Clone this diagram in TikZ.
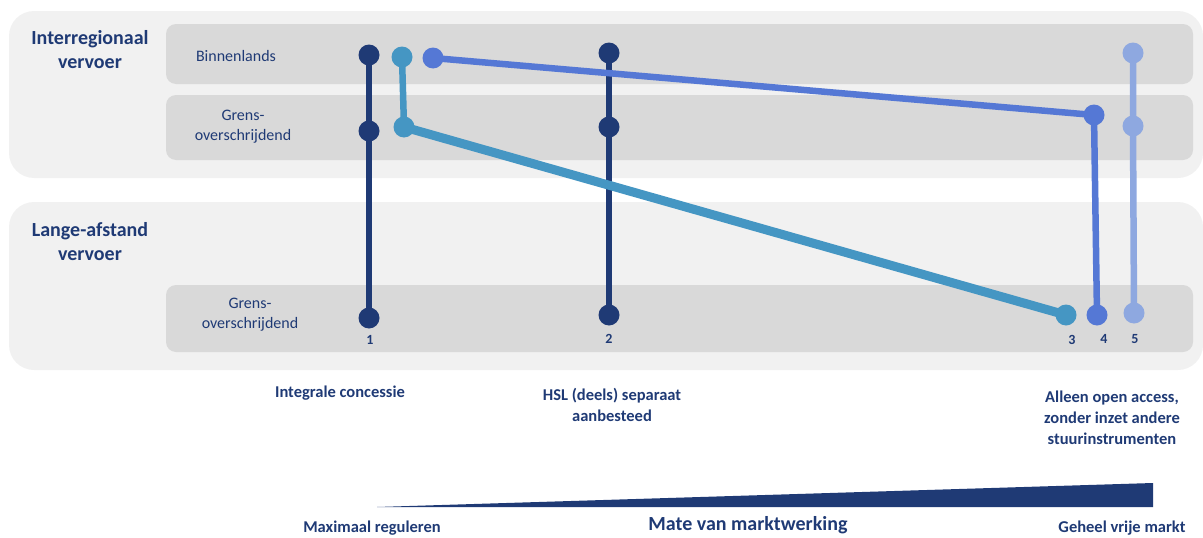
\documentclass[tikz,border=0pt]{standalone}
\usepackage{fontspec}
\setmainfont{Carlito}
\usetikzlibrary{positioning}
\definecolor{navy}{HTML}{1F3A75}
\definecolor{teal}{HTML}{4596C3}
\definecolor{midblue}{HTML}{5578D5}
\definecolor{lightblue}{HTML}{8EA8E0}
\definecolor{panelbg}{HTML}{F1F1F1}
\definecolor{rowbg}{HTML}{D9D9D9}
\begin{document}
\begin{tikzpicture}[x=1pt, y=-1pt, line cap=round, line join=round,
    dot/.style = {circle, fill=#1, inner sep=0pt, minimum size=21pt},
    track/.style = {draw=#1, line width=6.5pt},
    group/.style = {font=\bfseries\fontsize{20}{24}\selectfont, text=navy, align=center},
    rowlabel/.style = {font=\fontsize{16}{20}\selectfont, text=navy, align=center},
    num/.style = {font=\bfseries\fontsize{14}{16}\selectfont, text=navy},
    caption/.style = {font=\bfseries\fontsize{16.5}{21}\selectfont, text=navy, align=center}]
  \useasboundingbox (0,0) rectangle (1203,538);
  % panels
  \fill[panelbg, rounded corners=25pt] (9,11) rectangle (1203,178);
  \fill[panelbg, rounded corners=25pt] (9,202) rectangle (1203,370);
  \fill[rowbg, rounded corners=10pt] (166,24) rectangle (1193,84);
  \fill[rowbg, rounded corners=10pt] (166,95) rectangle (1193,160);
  \fill[rowbg, rounded corners=10pt] (166,285) rectangle (1193,352);
  % labels
  \node[group] (ir) at (90,50) {Interregionaal\\vervoer};
  \node[group] (la) at (90,242) {Lange-afstand\\vervoer};
  \node[rowlabel] (bin) at (236,56) {Binnenlands};
  \node[rowlabel] (gr1) at (243,127) {Grens-\\overschrijdend};
  \node[rowlabel] (gr2) at (250,315) {Grens-\\overschrijdend};
  % model 1
  \node[dot=navy] (a1) at (369,55) {};
  \node[dot=navy] (a2) at (369,131) {};
  \node[dot=navy] (a3) at (369,318) {};
  \draw[track=navy] (a1.center) -- (a2.center) -- (a3.center);
  % model 2
  \node[dot=navy] (b1) at (609,53) {};
  \node[dot=navy] (b2) at (609,127) {};
  \node[dot=navy] (b3) at (609,315) {};
  \draw[track=navy] (b1.center) -- (b2.center) -- (b3.center);
  % model 3
  \node[dot=teal] (c1) at (402,57) {};
  \node[dot=teal] (c2) at (404,127) {};
  \node[dot=teal] (c3) at (1066,315) {};
  \draw[track=teal] (c1.center) -- (c2.center);
  \draw[track=teal, line width=9pt] (c2.center) -- (c3.center);
  % model 4
  \node[dot=midblue] (d1) at (433,58) {};
  \node[dot=midblue] (d2) at (1094,115) {};
  \node[dot=midblue] (d3) at (1097,315) {};
  \draw[track=midblue] (d1.center) -- (d2.center) -- (d3.center);
  % model 5
  \node[dot=lightblue] (e1) at (1133,53) {};
  \node[dot=lightblue] (e2) at (1133,126) {};
  \node[dot=lightblue] (e3) at (1134,313) {};
  \draw[track=lightblue] (e1.center) -- (e2.center) -- (e3.center);
  % numbers
  \node[num] (n1) at (370,340) {1};
  \node[num] (n2) at (609,339) {2};
  \node[num] (n3) at (1072,340) {3};
  \node[num] (n4) at (1104,339) {4};
  \node[num] (n5) at (1135,339) {5};
  % captions
  \node[caption] (c-int) at (340,393) {Integrale concessie};
  \node[caption] (c-hsl) at (612,405) {HSL (deels) separaat\\aanbesteed};
  \node[caption] (c-oa) at (1112,418) {Alleen open access,\\zonder inzet andere\\stuurinstrumenten};
  % scale
  \fill[navy] (377,507) -- (1153,483) -- (1153,507) -- cycle;
  \node[caption] (max) at (372,528) {Maximaal reguleren};
  \node[caption, font=\bfseries\fontsize{20}{24}\selectfont] (mate) at (748,525) {Mate van marktwerking};
  \node[caption] (vrij) at (1122,528) {Geheel vrije markt};
\end{tikzpicture}
\end{document}
